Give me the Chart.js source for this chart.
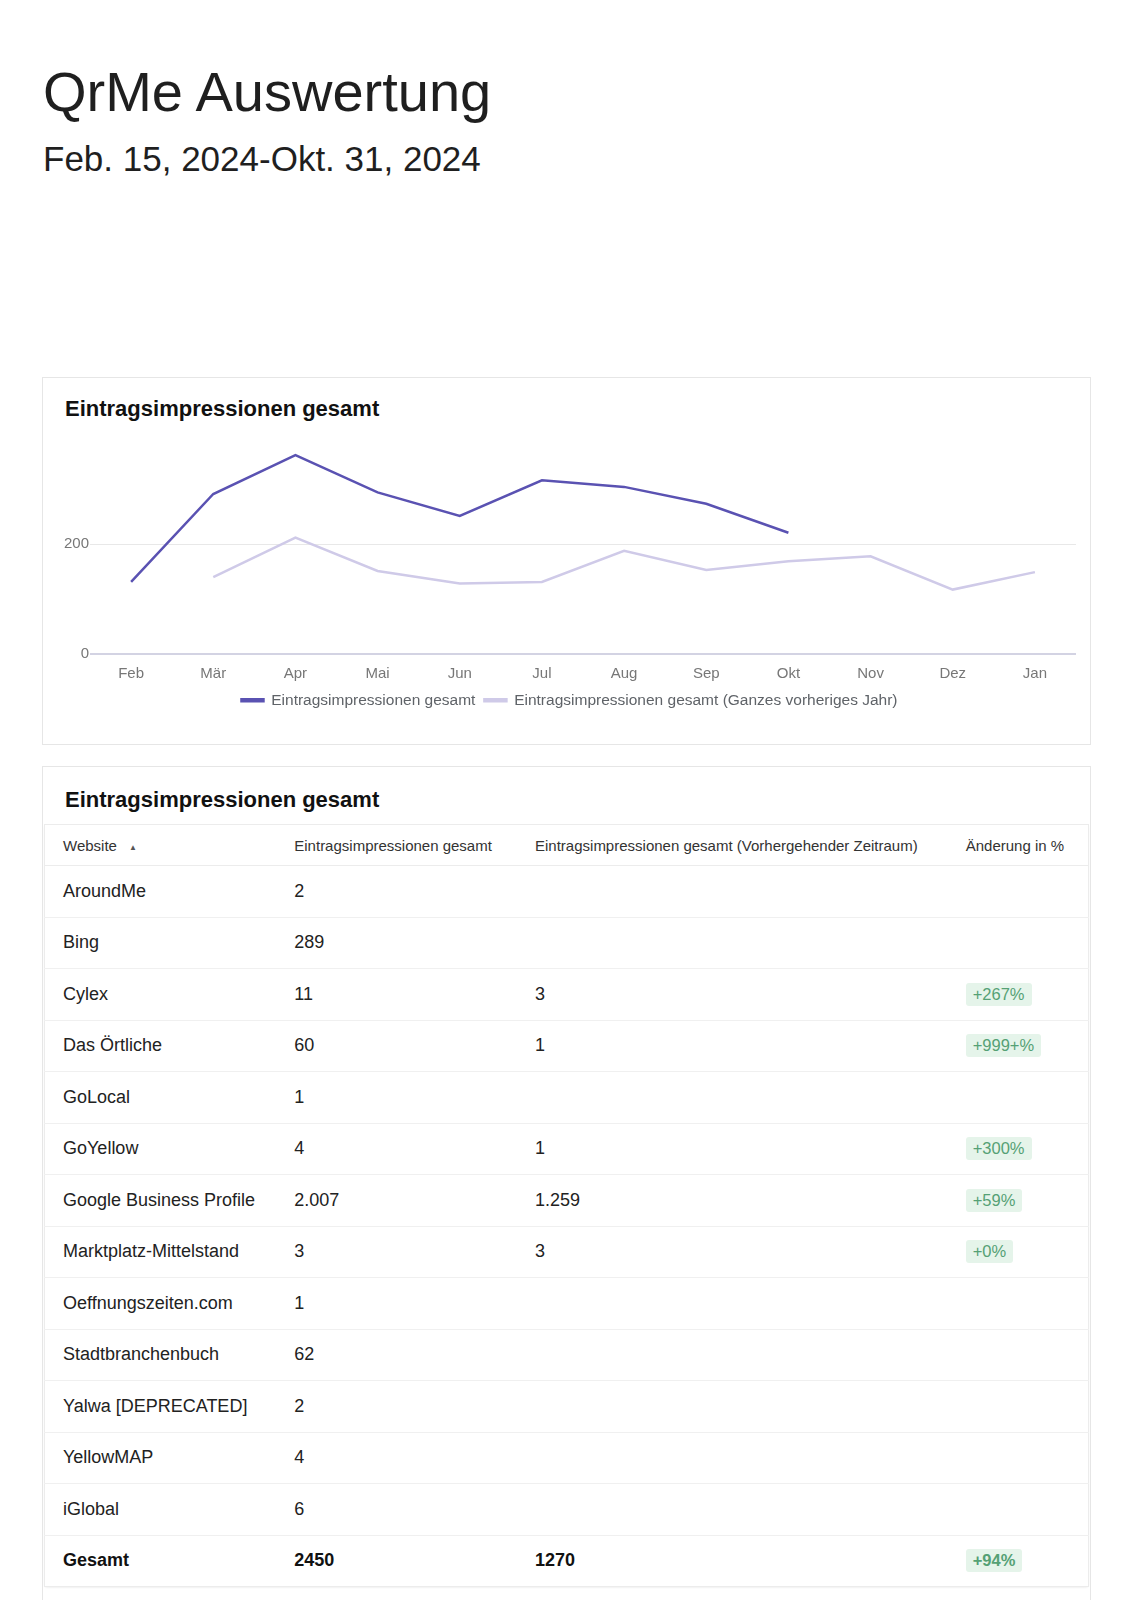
<!DOCTYPE html>
<html>
<head>
<meta charset="utf-8">
<script src="https://cdn.jsdelivr.net/npm/chart.js@4.4.1/dist/chart.umd.min.js"></script>
<style>
  html, body { margin:0; padding:0; background:#fff; }
  body { width:1133px; height:1600px; position:relative; overflow:hidden; font-family:"Liberation Sans", Arial, sans-serif; color:#202124; }
  .abs { position:absolute; }
  #title { left:43px; top:60px; font-size:56px; line-height:64px; color:#1f1f1f; white-space:nowrap; }
  #subtitle { left:43px; top:138px; font-size:35px; line-height:42px; color:#1f1f1f; white-space:nowrap; }
  .card { position:absolute; left:42px; width:1047px; border:1px solid #e6e6e6; background:#fff; }
  .cardtitle { position:absolute; left:22px; font-size:22px; font-weight:bold; color:#111; white-space:nowrap; }
  #chartWrap { position:absolute; left:63px; top:425px; width:1013px; height:293px; }
  #tbl { position:absolute; left:44px; top:824px; width:1045px; border-collapse:collapse; border:1px solid #ececec; box-shadow:0 1px 2px rgba(0,0,0,0.06); border-radius:4px; }
  #tbl th { font-weight:normal; font-size:15px; color:#333; text-align:left; height:40px; padding:0 0 0 18px; border-bottom:1px solid #ececec; white-space:nowrap; }
  #tbl td { font-size:18px; color:#222; height:50.5px; padding:0 0 0 18px; border-bottom:1px solid #f0f0f0; white-space:nowrap; }
  #tbl tr.total td { font-weight:bold; color:#111; border-bottom:none; }
  .sort { font-size:8px; color:#555; margin-left:12px; position:relative; top:-1px; }
  .badge { display:inline-block; background:#e5f4ea; color:#55a175; font-size:16.5px; line-height:23px; padding:0 7px; border-radius:3px; }
</style>
</head>
<body>
<div id="title" class="abs">QrMe Auswertung</div>
<div id="subtitle" class="abs">Feb. 15, 2024-Okt. 31, 2024</div>

<div class="card" style="top:377px;height:366px;">
  <div class="cardtitle" style="top:18px;">Eintragsimpressionen gesamt</div>
</div>
<div id="chartWrap"><canvas id="chart"></canvas></div>

<div class="card" style="top:766px;height:900px;">
  <div class="cardtitle" style="top:20px;">Eintragsimpressionen gesamt</div>
</div>
<table id="tbl">
  <colgroup><col style="width:232px"><col style="width:241px"><col style="width:431px"><col style="width:141px"></colgroup>
  <thead><tr id="headRow"></tr></thead>
  <tbody id="tbody"></tbody>
</table>

<script>
// ---- Chart data ----
const months = ['Feb','Mär','Apr','Mai','Jun','Jul','Aug','Sep','Okt','Nov','Dez','Jan'];
const impressions = [131, 292, 363, 295, 252, 317, 305, 274, 221, null, null, null];
const impressionsPrevYear = [null, 140, 212, 151, 128, 131, 188, 153, 169, 178, 117, 149];
const seriesNames = ['Eintragsimpressionen gesamt', 'Eintragsimpressionen gesamt (Ganzes vorheriges Jahr)'];
const yTicks = [0, 200];

// ---- Table data ----
const tableHeaders = ['Website', 'Eintragsimpressionen gesamt', 'Eintragsimpressionen gesamt (Vorhergehender Zeitraum)', 'Änderung in %'];
const sites = ['AroundMe','Bing','Cylex','Das Örtliche','GoLocal','GoYellow','Google Business Profile','Marktplatz-Mittelstand','Oeffnungszeiten.com','Stadtbranchenbuch','Yalwa [DEPRECATED]','YellowMAP','iGlobal'];
const siteTotals = ['2','289','11','60','1','4','2.007','3','1','62','2','4','6'];
const sitePrevious = ['','','3','1','','1','1.259','3','','','','',''];
const siteChange = ['','','+267%','+999+%','','+300%','+59%','+0%','','','','',''];
const totalRow = ['Gesamt', '2450', '1270', '+94%'];

// build table
const headRow = document.getElementById('headRow');
tableHeaders.forEach((h, i) => {
  const th = document.createElement('th');
  th.textContent = h;
  if (i === 0) { const s = document.createElement('span'); s.className = 'sort'; s.textContent = '▲'; th.appendChild(s); }
  headRow.appendChild(th);
});
const tbody = document.getElementById('tbody');
function addRow(cells, cls) {
  const tr = document.createElement('tr');
  if (cls) tr.className = cls;
  cells.forEach((c, i) => {
    const td = document.createElement('td');
    if (i === 3 && c) { const b = document.createElement('span'); b.className = 'badge'; b.textContent = c; td.appendChild(b); }
    else td.textContent = c;
    tr.appendChild(td);
  });
  tbody.appendChild(tr);
}
sites.forEach((s, i) => addRow([s, siteTotals[i], sitePrevious[i], siteChange[i]]));
addRow(totalRow, 'total');

// chart
const darkColor = '#5a52b2';
const lightColor = '#cfcae8';
const fontFam = '"Liberation Sans", Arial, sans-serif';
new Chart(document.getElementById('chart'), {
  type: 'line',
  data: {
    labels: months,
    datasets: [
      { label: seriesNames[0], data: impressions, borderColor: darkColor, backgroundColor: darkColor, borderWidth: 2.5, pointRadius: 0, tension: 0, spanGaps: false },
      { label: seriesNames[1], data: impressionsPrevYear, borderColor: lightColor, backgroundColor: lightColor, borderWidth: 2.5, pointRadius: 0, tension: 0, spanGaps: false }
    ]
  },
  options: {
    responsive: true,
    maintainAspectRatio: false,
    animation: false,
    layout: { padding: { top: 8, right: 0, left: 0, bottom: 0 } },
    plugins: {
      tooltip: { enabled: false },
      legend: {
        position: 'bottom',
        labels: {
          boxWidth: 22, boxHeight: 2, padding: 9,
          color: '#5f6368',
          font: { family: fontFam, size: 15.5 }
        }
      }
    },
    scales: {
      x: {
        offset: true,
        grid: { display: false, drawTicks: false },
        border: { display: false },
        ticks: { color: '#777', padding: 11, maxRotation: 0, font: { family: fontFam, size: 15 } },
        afterFit: (scale) => { scale.height = 30; }
      },
      y: {
        min: 0, max: 400,
        afterBuildTicks: (scale) => { scale.ticks = yTicks.map(v => ({ value: v })); },
        grid: {
          drawTicks: false,
          color: (ctx) => ctx.tick && ctx.tick.value === 0 ? '#d3d3e3' : '#e8e8e8',
          lineWidth: (ctx) => ctx.tick && ctx.tick.value === 0 ? 2 : 1
        },
        border: { display: false },
        ticks: { color: '#777', padding: 1, font: { family: fontFam, size: 15 } }
      }
    }
  }
});
</script>
</body>
</html>
